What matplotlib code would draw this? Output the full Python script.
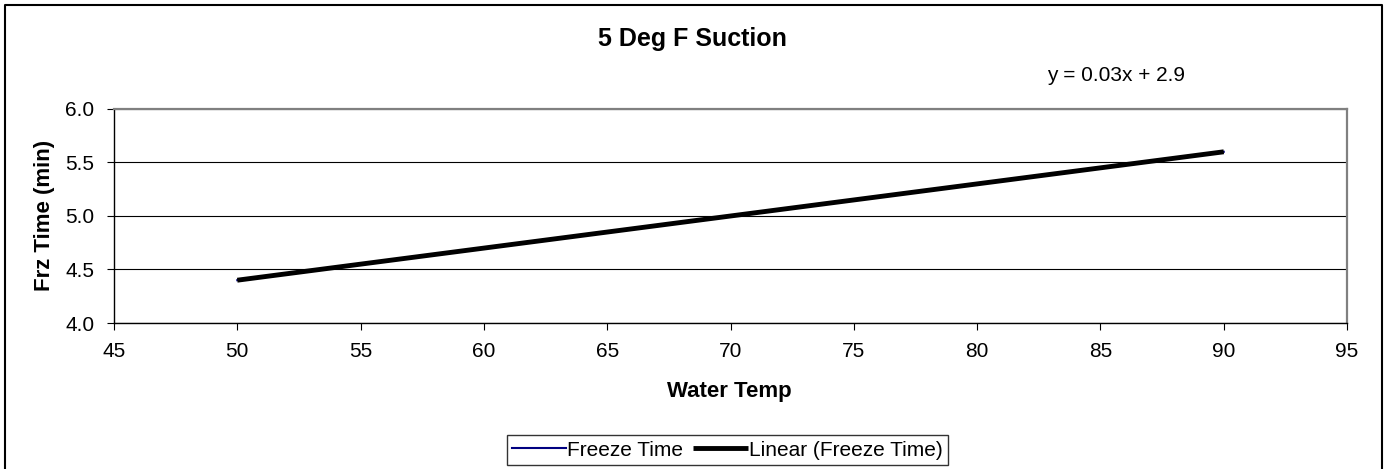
import numpy as np
import matplotlib.pyplot as plt
from matplotlib.lines import Line2D

plt.rcParams['font.family'] = ['Liberation Sans', 'DejaVu Sans']

# data
water_temp = [50, 60, 70, 80, 90]
freeze_time = [4.4, 4.7, 5.0, 5.3, 5.6]
x_ticks = [45, 50, 55, 60, 65, 70, 75, 80, 85, 90, 95]
y_ticks = [4.0, 4.5, 5.0, 5.5, 6.0]

fig = plt.figure(figsize=(13.85, 4.69), dpi=100)
ax = fig.add_axes([0.0823, 0.3113, 0.8903, 0.4563])

# trendline from a linear fit
slope, intercept = np.polyfit(water_temp, freeze_time, 1)
fit_x = np.array([min(water_temp), max(water_temp)])
fit_y = slope * fit_x + intercept

ax.plot(water_temp, freeze_time, color='#000080', lw=1.5, label='Freeze Time')
ax.plot(fit_x, fit_y, color='black', lw=3.5, solid_capstyle='butt', label='Linear (Freeze Time)')

ax.set_xlim(45, 95)
ax.set_ylim(4.0, 6.0)
ax.set_xticks(x_ticks)
ax.set_yticks(y_ticks)
ax.set_yticklabels([f'{v:.1f}' for v in y_ticks])
ax.tick_params(labelsize=15, length=5, direction='out', pad=9, color='black')
ax.yaxis.grid(True, color='black', lw=0.8)
ax.set_axisbelow(True)

for side in ['top', 'right']:
    ax.spines[side].set_color('#808080')
    ax.spines[side].set_linewidth(1.6)
for side in ['left', 'bottom']:
    ax.spines[side].set_linewidth(1.0)

fig.text(0.5265, 0.166, 'Water Temp', fontsize=16, fontweight='bold', ha='center', va='center')
fig.text(0.0318, 0.5405, 'Frz Time (min)', fontsize=16, fontweight='bold', ha='center', va='center',
         rotation=90)

fig.text(0.4997, 0.916, '5 Deg F Suction', fontsize=18, fontweight='bold', ha='center', va='center')
fig.text(0.806, 0.840, f'y = {slope:.2f}x + {intercept:.1f}', fontsize=15, ha='center', va='center')

leg = ax.legend(loc='center', bbox_to_anchor=(0.525, 0.0405), bbox_transform=fig.transFigure,
                ncol=2, frameon=True, fancybox=False, fontsize=15, handlelength=2.6,
                handletextpad=0.05, columnspacing=0.5, borderpad=0.25)
leg.get_frame().set_edgecolor('black')
leg.get_frame().set_linewidth(1.0)

# outer chart frame (bottom edge is cut off in the original)
frame_x = [0.0036, 0.0036, 0.9975, 0.9975]
frame_y = [-0.01, 0.9893, 0.9893, -0.01]
fig.add_artist(Line2D(frame_x, frame_y, transform=fig.transFigure, color='black', lw=1.5))

fig.savefig('out.png', dpi=100)
